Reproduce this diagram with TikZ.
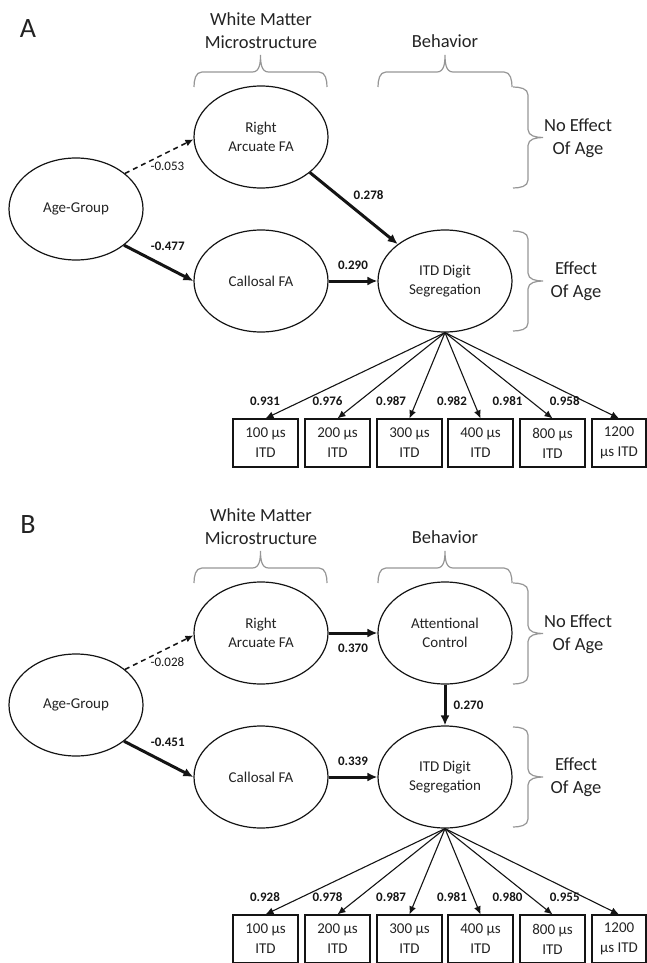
\documentclass[tikz,border=0pt]{standalone}
\usepackage{fontspec}
\setsansfont{Carlito}
\usepackage{tikz}
\usetikzlibrary{positioning, shapes.geometric, arrows.meta}
\definecolor{semLine}{RGB}{20, 20, 20}
\definecolor{semText}{RGB}{35, 35, 35}
\definecolor{semBrace}{RGB}{150, 150, 150}
\tikzset{
    base/.style={
        font=\sffamily,
        align=center,
        text=semText
    },
    latent/.style={
        base,
        ellipse,
        draw=semLine,
        line width=1.2pt,
        minimum width=134pt,
        minimum height=102pt,
        inner sep=0pt,
        font=\sffamily\fontsize{15}{19}\selectfont
    },
    indicator/.style={
        base,
        rectangle,
        draw=semLine,
        line width=1.2pt,
        minimum width=65pt,
        minimum height=48pt,
        inner sep=0pt,
        font=\sffamily\fontsize{15}{20}\selectfont
    },
    strong/.style={
        -{Latex[length=10pt, width=9pt]},
        line width=3pt,
        color=semLine
    },
    weak/.style={
        -{Latex[length=8pt, width=7pt]},
        line width=1.5pt,
        dash pattern=on 5pt off 4pt,
        color=semLine
    },
    load/.style={
        -{Latex[length=8pt, width=7pt]},
        line width=1.1pt,
        color=semLine
    },
    coef/.style={
        base,
        font=\sffamily\bfseries\fontsize{13}{15}\selectfont,
        text=semLine,
        inner sep=1pt
    },
    coefns/.style={
        coef,
        font=\sffamily\fontsize{13}{15}\selectfont
    },
    heading/.style={
        base,
        font=\sffamily\fontsize{18.5}{23}\selectfont
    },
    tag/.style={
        base,
        font=\sffamily\fontsize{28}{30}\selectfont
    },
    brc/.style={
        draw=semBrace,
        line width=1.2pt
    }
}
% brace over a group: x1, x2, y of the ends
\newcommand{\grpbraceH}[3]{%
  \pgfmathsetmacro\bmid{(#1+#2)/2}%
  \draw[brc] (#1,#3) to[out=90, in=180] (#1+8,#3-15) -- (\bmid-8,#3-15)
    to[out=0, in=-90] (\bmid,#3-32) to[out=-90, in=180] (\bmid+8,#3-15)
    -- (#2-8,#3-15) to[out=0, in=90] (#2,#3);}
% brace at the side: x of the ends, y1, y2
\newcommand{\grpbraceV}[3]{%
  \pgfmathsetmacro\bmid{(#2+#3)/2}%
  \draw[brc] (#1,#2) to[out=0, in=90] (#1+15,#2+8) -- (#1+15,\bmid-8)
    to[out=-90, in=180] (#1+30,\bmid) to[out=180, in=90] (#1+15,\bmid+8)
    -- (#1+15,#3-8) to[out=-90, in=0] (#1,#3);}

\begin{document}
\begin{tikzpicture}[x=1pt, y=-1pt]
  \useasboundingbox (0,0) rectangle (647,963);

  % panel A
  \node[tag] (tagA) at (28,29) {A};
  \node[heading] (wmA) at (261,31) {White Matter\\Microstructure};
  \node[heading] (bhA) at (445,41) {Behavior};
  \node[heading] (neA) at (578,138) {No Effect\\Of Age};
  \node[heading] (efA) at (576,281) {Effect\\Of Age};

  \node[latent] (ageA) at (76,209) {Age-Group};
  \node[latent] (raA) at (261,137) {Right\\Arcuate FA};
  \node[latent] (calA) at (261,281) {Callosal FA};
  \node[latent] (itdA) at (445,281) {ITD Digit\\Segregation};

  \grpbraceH{194}{327}{87}
  \grpbraceH{378}{512}{87}
  \grpbraceV{513}{87}{188}
  \grpbraceV{513}{231}{331}

  \draw[weak] (ageA.36) -- node[coefns, pos=0.62, below=8pt] {-0.053} (raA.182);
  \draw[strong] (ageA.-37) -- node[coef, pos=0.63, above=15pt] {-0.477} (calA.180);
  \draw[strong] (raA.-36) -- node[coef, pos=0.31, right=14pt] {0.278} (itdA.142);
  \draw[strong] (calA) -- node[coef, midway, above=9pt] {0.290} (itdA);

  \foreach \n/\x/\w/\t in {1/265.5/65/{100 µs\\ITD}, 2/337.5/65/{200 µs\\ITD}, 3/409.5/65/{300 µs\\ITD},
                           4/480.5/65/{400 µs\\ITD}, 5/552.5/65/{800 µs\\ITD}, 6/619/54/{1200\\µs ITD}}
    \node[indicator, minimum width=\w pt] (bA\n) at (\x,443) {\t};

  \foreach \n/\c/\d in {1/0.931/20, 2/0.976/15, 3/0.987/9, 4/0.982/5, 5/0.981/7, 6/0.958/3}
    \draw[load] (itdA.south) -- node[coef, pos=0.8, anchor=east, xshift=-\d pt] {\c} (bA\n.north);

  % panel B
  \begin{scope}[shift={(0,496)}]
    \node[tag] (tagB) at (28,29) {B};
    \node[heading] (wmB) at (261,31) {White Matter\\Microstructure};
    \node[heading] (bhB) at (445,41) {Behavior};
    \node[heading] (neB) at (578,138) {No Effect\\Of Age};
    \node[heading] (efB) at (576,281) {Effect\\Of Age};

    \node[latent] (ageB) at (76,209) {Age-Group};
    \node[latent] (raB) at (261,137) {Right\\Arcuate FA};
    \node[latent] (acB) at (445,137) {Attentional\\Control};
    \node[latent] (calB) at (261,281) {Callosal FA};
    \node[latent] (itdB) at (445,281) {ITD Digit\\Segregation};

    \grpbraceH{194}{327}{87}
    \grpbraceH{378}{512}{87}
    \grpbraceV{513}{87}{188}
    \grpbraceV{513}{231}{331}

    \draw[weak] (ageB.36) -- node[coefns, pos=0.62, below=8pt] {-0.028} (raB.182);
    \draw[strong] (ageB.-37) -- node[coef, pos=0.63, above=15pt] {-0.451} (calB.180);
    \draw[strong] (raB) -- node[coef, midway, below=8pt] {0.370} (acB);
    \draw[strong] (acB) -- node[coef, midway, right=6pt] {0.270} (itdB);
    \draw[strong] (calB) -- node[coef, midway, above=9pt] {0.339} (itdB);

    \foreach \n/\x/\w/\t in {1/265.5/65/{100 µs\\ITD}, 2/337.5/65/{200 µs\\ITD}, 3/409.5/65/{300 µs\\ITD},
                             4/480.5/65/{400 µs\\ITD}, 5/552.5/65/{800 µs\\ITD}, 6/619/54/{1200\\µs ITD}}
      \node[indicator, minimum width=\w pt] (bB\n) at (\x,443) {\t};

    \foreach \n/\c/\d in {1/0.928/20, 2/0.978/15, 3/0.987/9, 4/0.981/5, 5/0.980/7, 6/0.955/3}
      \draw[load] (itdB.south) -- node[coef, pos=0.8, anchor=east, xshift=-\d pt] {\c} (bB\n.north);
  \end{scope}
\end{tikzpicture}
\end{document}
